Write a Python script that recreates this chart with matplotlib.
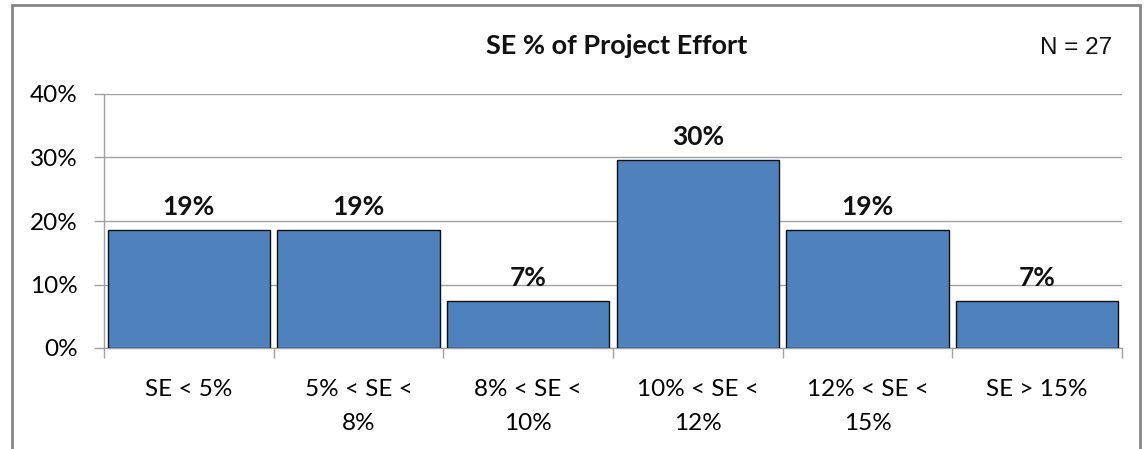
import matplotlib
matplotlib.use("Agg")
import matplotlib.pyplot as plt
from matplotlib.patches import Rectangle
from matplotlib.ticker import PercentFormatter, FixedLocator

categories = ["SE < 5%", "5% < SE <\n8%", "8% < SE <\n10%", "10% < SE <\n12%", "12% < SE <\n15%", "SE > 15%"]
counts = [5, 5, 2, 8, 5, 2]
n_total = 27
values = [c / n_total * 100 for c in counts]
value_labels = ["19%", "19%", "7%", "30%", "19%", "7%"]
yticks = [0, 10, 20, 30, 40]

plt.rcParams['font.family'] = ['Lato', 'DejaVu Sans']

fig = plt.figure(figsize=(11.47, 4.49), dpi=100)
ax = fig.add_axes([104/1147, 1-348/449, (1122-104)/1147, (348-94)/449])

x = list(range(len(categories)))
ax.bar(x, values, width=0.955, color="#4F81BD", edgecolor="#111111", linewidth=1.0, zorder=3)
for xi, v, lab in zip(x, values, value_labels):
    ax.annotate(lab, (xi, v), xytext=(0, 8), textcoords="offset points",
                ha="center", va="bottom", fontsize=19, fontweight="bold", color="#111111")

ax.set_xlim(-0.5, len(categories) - 0.5)
ax.set_ylim(0, 40)
ax.set_yticks(yticks)
ax.yaxis.set_major_formatter(PercentFormatter(decimals=0))
ax.grid(axis="y", color="#A0A0A0", linewidth=1.0, zorder=0)
ax.set_xticks(x)
ax.set_xticklabels(categories, fontsize=17.5, linespacing=1.8)
ax.xaxis.set_minor_locator(FixedLocator([i - 0.5 for i in range(len(categories) + 1)]))
ax.tick_params(axis="x", which="major", length=0, pad=22)
ax.tick_params(axis="x", which="minor", length=7, color="#A0A0A0", width=1)
ax.tick_params(axis="y", length=7, color="#A0A0A0", width=1, labelsize=17.5, pad=12)
for s in ["top", "right"]:
    ax.spines[s].set_visible(False)
for s in ["left", "bottom"]:
    ax.spines[s].set_color("#A0A0A0")
    ax.spines[s].set_linewidth(1.0)

fig.text(617/1147, 1-46/449, "SE % of Project Effort", ha="center", va="center",
         fontsize=19.5, fontweight="bold", color="#111111")
fig.text(1076/1147, 1-48/449, "N = 27", ha="center", va="center",
         fontsize=17.5, family=["Liberation Sans", "DejaVu Sans"], color="#111111")

fig.patches.append(Rectangle((12/1147, -0.05), (1140-12)/1147, 1.05 - 5/449, transform=fig.transFigure,
                             fill=False, edgecolor="#868686", linewidth=2))

fig.savefig("out.png", dpi=100)
